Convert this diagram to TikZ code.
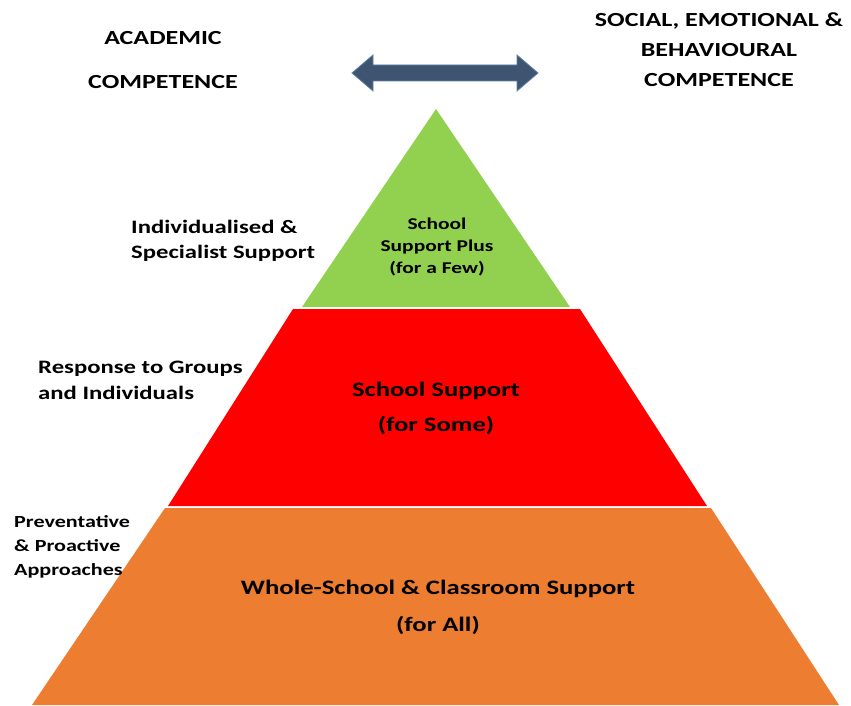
\documentclass[tikz,border=0pt]{standalone}
\usepackage{fontspec}
\setmainfont[FakeStretch=1.3]{Carlito}
\definecolor{tgreen}{HTML}{92D050}
\definecolor{tred}{HTML}{FF0000}
\definecolor{torange}{HTML}{ED7D31}
\definecolor{tarrow}{HTML}{3F5470}
\definecolor{tarrowb}{HTML}{5E7FA8}
\tikzset{
  lbl/.style={inner sep=0pt, align=left, anchor=west},
  head/.style={inner sep=0pt, font=\bfseries\fontsize{20}{30}\selectfont, align=center},
  tier/.style={inner sep=0pt, align=center, text=black},
}
\begin{document}
\begin{tikzpicture}[x=1pt,y=-1pt]
\useasboundingbox (0,0) rectangle (851,706);
% pyramid tiers
\fill[torange] (165,508) -- (711,508) -- (839,705) -- (32,705) -- cycle;
\fill[tred] (293,309) -- (580,309) -- (707,506) -- (168,506) -- cycle;
\fill[tgreen] (436,109) -- (570,307) -- (302,307) -- cycle;
% double arrow
\fill[tarrow, draw=tarrowb, line width=0.8pt]
  (352,73) -- (373,55) -- (373,65) -- (517,65) -- (517,55) -- (538,73)
  -- (517,91) -- (517,81) -- (373,81) -- (373,91) -- cycle;
% headings
\node[head] (acad) at (163,60) {ACADEMIC\\[14pt]COMPETENCE};
\node[head] (sebc) at (719,50) {SOCIAL, EMOTIONAL \&\\BEHAVIOURAL\\COMPETENCE};
% tier texts
\node[tier, font=\bfseries\fontsize{16.5}{22}\selectfont] (t1) at (437,247) {School\\Support Plus\\(for a Few)};
\node[tier, font=\bfseries\fontsize{20.5}{35}\selectfont] (t2) at (436,408) {School Support\\(for Some)};
\node[tier, font=\bfseries\fontsize{20.5}{37}\selectfont] (t3) at (438,607) {Whole-School \& Classroom Support\\(for All)};
% side labels
\node[lbl, font=\bfseries\fontsize{19}{25}\selectfont] (l1) at (131,241) {Individualised \&\\Specialist Support};
\node[lbl, font=\bfseries\fontsize{19}{26}\selectfont] (l2) at (38,380) {Response to Groups\\and Individuals};
\node[lbl, font=\bfseries\fontsize{17}{24}\selectfont] (l3) at (14,547) {Preventative\\\& Proactive\\Approaches};
\end{tikzpicture}
\end{document}
